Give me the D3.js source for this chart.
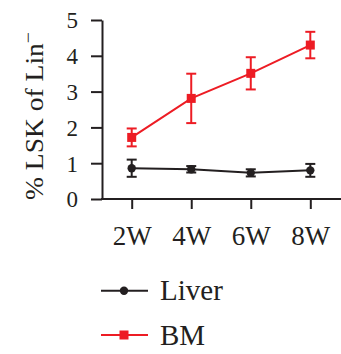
<!DOCTYPE html>
<html><head><meta charset="utf-8">
<script src="https://cdn.jsdelivr.net/npm/d3@7"></script>
<style>
html,body{margin:0;padding:0;background:#fff;}
svg{display:block;}
</style></head>
<body>
<svg id="c" width="341" height="354"></svg>
<script>
const categories = ["2W","4W","6W","8W"];
const liverMean = [0.86, 0.83, 0.73, 0.80];
const liverErr  = [0.24, 0.09, 0.10, 0.18];
const bmMean    = [1.72, 2.81, 3.51, 4.30];
const bmErr     = [0.25, 0.69, 0.45, 0.37];
const yTicks    = [0,1,2,3,4,5];
const seriesNames = ["Liver","BM"];
const colors = ["#231f20","#ed1c24"];
const FONT = "'Liberation Serif', 'Times New Roman', 'DejaVu Serif', serif";

const svg = d3.select("#c");
const x = d3.scalePoint().domain(categories).range([131.7, 310.3]);
const y = d3.scaleLinear().domain([0,5]).range([199, 20]);

// axes
const yAxis = svg.append("g").attr("transform","translate(102,0)")
  .call(d3.axisLeft(y).tickValues(yTicks).tickFormat(d3.format("d")).tickSize(11).tickPadding(13).tickSizeOuter(0));
yAxis.attr("font-family", FONT);
yAxis.select(".domain").attr("stroke","#231f20").attr("stroke-width",2);
yAxis.selectAll(".tick line").attr("stroke","#231f20").attr("stroke-width",2);
yAxis.selectAll("text").style("font-family",FONT).style("font-size","23px").attr("dy","0.34em").attr("fill","#231f20");

const xAxis = svg.append("g").attr("transform","translate(0,199)")
  .call(d3.axisBottom(x).tickSize(10).tickPadding(17).tickSizeOuter(0));
xAxis.attr("font-family", FONT);
xAxis.select(".domain").attr("d","M101,0H341").attr("stroke","#231f20").attr("stroke-width",2);
xAxis.selectAll(".tick line").attr("stroke","#231f20").attr("stroke-width",2);
xAxis.selectAll("text").style("font-family",FONT).style("font-size","27px").attr("fill","#231f20").attr("dy","0.71em");

// y title
const t = svg.append("text").attr("transform","translate(43,200) rotate(-90)")
  .attr("text-anchor","start").style("font-family",FONT).style("font-size","25px").attr("fill","#231f20")
  .attr("textLength",168).attr("lengthAdjust","spacingAndGlyphs");
t.append("tspan").text("% LSK of Lin");
t.append("tspan").attr("dy","-9").style("font-size","18px").text("\u2212");

// series
const series = [
  {name:seriesNames[0], mean:liverMean, err:liverErr, color:colors[0], shape:"circle"},
  {name:seriesNames[1], mean:bmMean, err:bmErr, color:colors[1], shape:"square"}
];
const line = d3.line().x((d,i)=>x(categories[i])).y(d=>y(d));
series.forEach(s=>{
  const g = svg.append("g");
  g.append("path").attr("d", line(s.mean)).attr("fill","none").attr("stroke",s.color).attr("stroke-width",2);
  s.mean.forEach((m,i)=>{
    const cx = x(categories[i]);
    const e = s.err[i];
    g.append("line").attr("x1",cx).attr("x2",cx).attr("y1",y(m+e)).attr("y2",y(m-e)).attr("stroke",s.color).attr("stroke-width",2);
    [m+e,m-e].forEach(v=>g.append("line").attr("x1",cx-5).attr("x2",cx+5).attr("y1",y(v)).attr("y2",y(v)).attr("stroke",s.color).attr("stroke-width",2));
    if(s.shape==="circle") g.append("circle").attr("cx",cx).attr("cy",y(m)).attr("r",4.2).attr("fill",s.color);
    else g.append("rect").attr("x",cx-4.5).attr("y",y(m)-4.5).attr("width",9).attr("height",9).attr("fill",s.color);
  });
});

// legend
const legY = [290.7, 335];
series.forEach((s,i)=>{
  const g = svg.append("g").attr("transform",`translate(0,${legY[i]})`);
  g.append("line").attr("x1",101).attr("x2",148).attr("y1",0).attr("y2",0).attr("stroke",s.color).attr("stroke-width",2);
  if(s.shape==="circle") g.append("circle").attr("cx",124).attr("cy",0).attr("r",4.2).attr("fill",s.color);
  else g.append("rect").attr("x",119.5).attr("y",-4.5).attr("width",9).attr("height",9).attr("fill",s.color);
  g.append("text").attr("x",160).attr("y",9.5).style("font-family",FONT).style("font-size","29px").attr("fill","#231f20").text(s.name);
});
</script>
</body></html>
